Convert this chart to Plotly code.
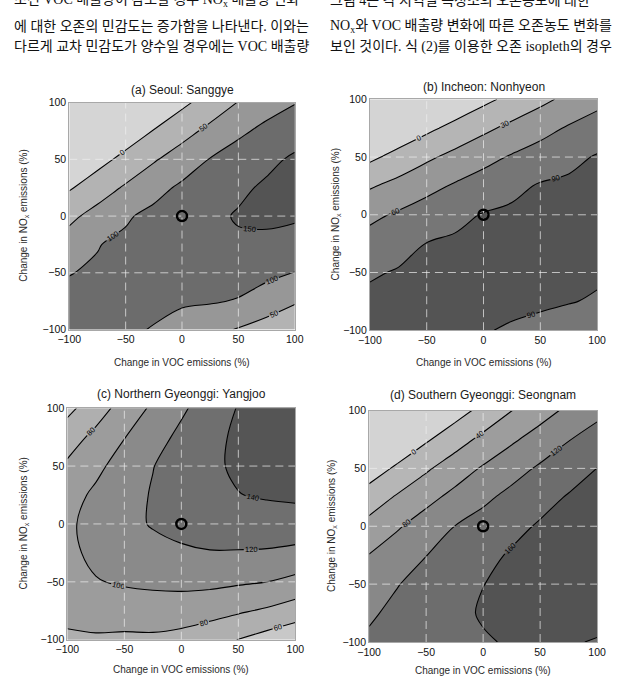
import plotly.graph_objects as go

# ---------------- data ----------------
voc_change = [-100, -75, -50, -25, 0, 25, 50, 75, 100]   # x grid (%)
nox_change = [-100, -75, -50, -25, 0, 25, 50, 75, 100]   # y grid (%)

# ozone response, rows = NOx change (-100 .. 100), cols = VOC change (-100 .. 100)
o3_sanggye = [
    [112, 110, 106, 98, 81, 64, 47, 30, 13],
    [108, 110, 110, 109, 106, 104, 97, 76, 55],
    [99, 104, 108, 111, 115, 118, 120, 112, 99],
    [70.5, 98.5, 108, 112, 123, 135, 143, 142, 132],
    [39, 67, 95, 111.5, 125.5, 139.4, 154, 157, 156],
    [-5, 26, 56, 85, 108, 125, 141, 157, 163],
    [-48, -17, 14, 45, 74, 102, 121, 139, 157],
    [-90, -59, -29, 2, 32, 62.5, 91, 111.5, 128.6],
    [-130, -100, -70, -40, -10, 20, 52, 80, 98],
]
o3_nonhyeon = [
    [98, 98, 97, 95, 91.5, 87.5, 84, 80, 76],
    [96, 97, 98, 98, 97, 95.5, 93.5, 91, 88],
    [87, 92, 95, 97, 99, 99, 98, 96, 93],
    [71, 80.8, 90.6, 94, 97, 100, 101, 100, 98],
    [53.7, 63.6, 73.4, 83.3, 91.5, 95, 98, 100, 101],
    [27, 39.3, 51.6, 63.2, 73.2, 83.2, 92.5, 95.5, 97],
    [-6, 9.4, 24.9, 38.4, 51, 62.7, 72.5, 82.3, 92.3],
    [-36.7, -21.6, -6.5, 8.5, 23.7, 37.5, 50.3, 63, 72],
    [-66, -51.5, -36.7, -22, -7, 7.8, 22.6, 37.4, 52],
]
o3_yangjoo = [
    [77, 77.5, 76, 76.5, 74, 68.5, 59.5, 52, 45],
    [84.9, 88, 90.3, 90.3, 89.4, 86.6, 82.5, 77.4, 70.2],
    [92, 99, 102, 104, 105.2, 104.8, 102.4, 100, 94.7],
    [96, 104, 108, 113.5, 117.8, 119.2, 118.9, 118.2, 115.5],
    [97, 106, 114.3, 121.5, 124.5, 127, 129, 130.5, 131.2],
    [93, 103.3, 112.7, 121.4, 127.6, 133.8, 139.5, 142, 143.5],
    [83, 95.7, 107.8, 119.5, 128, 136.4, 143, 146, 147],
    [71, 85, 99.4, 112.6, 124.3, 134.4, 143.5, 147, 150],
    [54.7, 71.3, 87.7, 103.3, 117, 129.3, 141, 147.5, 152],
]
o3_seongnam = [
    [126, 135, 143, 150.5, 157, 163, 164, 162, 158.5],
    [114.9, 128.9, 140.3, 151.8, 163, 166, 169, 169, 168],
    [97.9, 118.7, 132.6, 146, 159.6, 166, 171, 174, 174],
    [81, 100.2, 119.4, 134.5, 149.5, 164, 170, 174, 176],
    [52.6, 76.1, 98.1, 120.2, 134.8, 149.6, 164, 170, 175],
    [18.3, 44.8, 68.5, 90.9, 112.2, 130.6, 147.2, 163, 170],
    [-20.6, 6.9, 34.4, 59.9, 84.1, 105.3, 125.3, 142.8, 160.4],
    [-60.6, -32.8, -4.9, 22.9, 49.5, 73.9, 96.4, 118.4, 136.1],
    [-101.8, -73.6, -45.3, -17, 11.2, 39.4, 64.2, 87.8, 109.6],
]

levels_sanggye = (0, 150, 50)
levels_nonhyeon = (0, 90, 30)
levels_yangjoo = (60, 140, 20)
levels_seongnam = (0, 160, 40)

panel_titles = ["(a) Seoul: Sanggye", "(b) Incheon: Nonhyeon",
                "(c) Northern Gyeonggi: Yangjoo", "(d) Southern Gyeonggi: Seongnam"]
tick_vals = [-100, -50, 0, 50, 100]
grid_vals = [-50, 0, 50]
base_voc = [0]
base_nox = [0]

x_title = "Change in VOC emissions (%)"
y_title = "Change in NO<sub>x</sub> emissions (%)"

# ---------------- styling / layout ----------------
W, H = 618, 687
FONT = "Liberation Sans, Arial, sans-serif"

panels = [
    dict(z=o3_sanggye, lev=levels_sanggye,
         colors=["#d5d5d5", "#b3b3b3", "#979797", "#6c6c6c", "#545454"],
         box=(59.3, 292.7, 98.3, 329.3), title_y=85, xt_y=363, yt_x=12),
    dict(z=o3_nonhyeon, lev=levels_nonhyeon,
         colors=["#d4d4d4", "#b5b5b5", "#979797", "#767676", "#545454"],
         box=(370.5, 605.7, 95.0, 330.0), title_y=82, xt_y=363, yt_x=335),
    dict(z=o3_yangjoo, lev=levels_yangjoo,
         colors=["#c8c8c8", "#afafaf", "#9c9c9c", "#8a8a8a", "#6f6f6f", "#555555"],
         box=(57.3, 293.3, 409.3, 645.0), title_y=395, xt_y=675, yt_x=12),
    dict(z=o3_seongnam, lev=levels_seongnam,
         colors=["#d3d3d3", "#b6b6b6", "#9d9d9d", "#888888", "#6d6d6d", "#535353"],
         box=(369.7, 605.7, 411.7, 647.3), title_y=396, xt_y=676, yt_x=331),
]

fig = go.Figure()
annotations = []
layout_axes = {}
grid_line = dict(color="rgba(240,240,240,0.7)", width=1, dash="8px,5px")

for i, p in enumerate(panels):
    n = i + 1
    xa, ya = f"x{n}", f"y{n}"
    start, end, step = p["lev"]
    cols = p["colors"]
    k = len(cols) - 1
    cscale = [[j / k, c] for j, c in enumerate(cols)]
    fig.add_trace(go.Contour(
        x=voc_change, y=nox_change, z=p["z"], xaxis=xa, yaxis=ya,
        autocontour=False,
        contours=dict(start=start, end=end, size=step, coloring="fill",
                      showlabels=True,
                      labelfont=dict(size=7.5, color="black", family=FONT)),
        colorscale=cscale, showscale=False,
        line=dict(color="black", width=1.1, smoothing=1.0),
        hoverinfo="skip",
    ))
    # dashed grid lines drawn above the filled contours
    for g in grid_vals:
        fig.add_trace(go.Scatter(x=[g, g], y=[tick_vals[0], tick_vals[-1]], xaxis=xa, yaxis=ya,
                                 mode="lines", hoverinfo="skip", line=grid_line))
        fig.add_trace(go.Scatter(x=[tick_vals[0], tick_vals[-1]], y=[g, g], xaxis=xa, yaxis=ya,
                                 mode="lines", hoverinfo="skip", line=grid_line))
    # base case marker
    fig.add_trace(go.Scatter(x=base_voc, y=base_nox, xaxis=xa, yaxis=ya, mode="markers",
                             hoverinfo="skip",
                             marker=dict(symbol="circle-open", size=10, color="black",
                                         line=dict(width=2.5, color="black"))))

    x0, x1, y0, y1 = p["box"]
    ax_common = dict(range=[-100, 100], tickvals=tick_vals, showgrid=False, zeroline=False,
                     ticks="", showline=True, linecolor="#a8a8a8", linewidth=1, mirror=True,
                     tickfont=dict(size=10.5, color="#111111", family=FONT), fixedrange=True)
    layout_axes[f"xaxis{n}"] = dict(domain=[x0 / W, x1 / W], anchor=ya, **ax_common)
    layout_axes[f"yaxis{n}"] = dict(domain=[1 - y1 / H, 1 - y0 / H], anchor=xa, **ax_common)

    cx = (x0 + x1) / 2
    cy = (y0 + y1) / 2
    annotations.append(dict(text=panel_titles[i], x=cx / W, y=1 - p["title_y"] / H,
                            xref="paper", yref="paper", showarrow=False,
                            font=dict(size=12, color="#1a1a1a", family=FONT),
                            xanchor="center", yanchor="middle"))
    annotations.append(dict(text=x_title, x=cx / W, y=1 - p["xt_y"] / H,
                            xref="paper", yref="paper", showarrow=False,
                            font=dict(size=10, color="#2a2a2a", family=FONT),
                            xanchor="center", yanchor="middle"))
    annotations.append(dict(text=y_title, x=p["yt_x"] / W, y=1 - cy / H, textangle=-90,
                            xref="paper", yref="paper", showarrow=False,
                            font=dict(size=10, color="#2a2a2a", family=FONT),
                            xanchor="center", yanchor="middle"))

# Korean body text above the figure (the first line is cut by the page edge, as in the source)
KFONT = "Liberation Serif, Noto Sans CJK KR, serif"
body_left = ["조건 VOC 배출량이 감소할 경우 NO<sub>x</sub> 배출량 변화",
             "에 대한 오존의 민감도는 증가함을 나타낸다. 이와는",
             "다르게 교차 민감도가 양수일 경우에는 VOC 배출량"]
body_right = ["그림 4는 각 지역별 측정소의 오존농도에 대한",
              "NO<sub>x</sub>와 VOC 배출량 변화에 따른 오존농도 변화를",
              "보인 것이다. 식 (2)를 이용한 오존 isopleth의 경우"]
line_y = [-5.5, 21, 41.5]
for txt, yy in zip(body_left, line_y):
    annotations.append(dict(text=txt, x=0, y=1 - yy / H, xref="paper", yref="paper",
                            showarrow=False, xanchor="left", yanchor="middle",
                            font=dict(size=14, color="#111", family=KFONT)))
for txt, yy in zip(body_right, line_y):
    annotations.append(dict(text=txt, x=327 / W, y=1 - yy / H, xref="paper", yref="paper",
                            showarrow=False, xanchor="left", yanchor="middle",
                            font=dict(size=14, color="#111", family=KFONT)))

fig.update_layout(width=W, height=H, margin=dict(l=0, r=0, t=0, b=0),
                  paper_bgcolor="white", plot_bgcolor="white", showlegend=False,
                  annotations=annotations, **layout_axes)

fig.write_html("out.html")
